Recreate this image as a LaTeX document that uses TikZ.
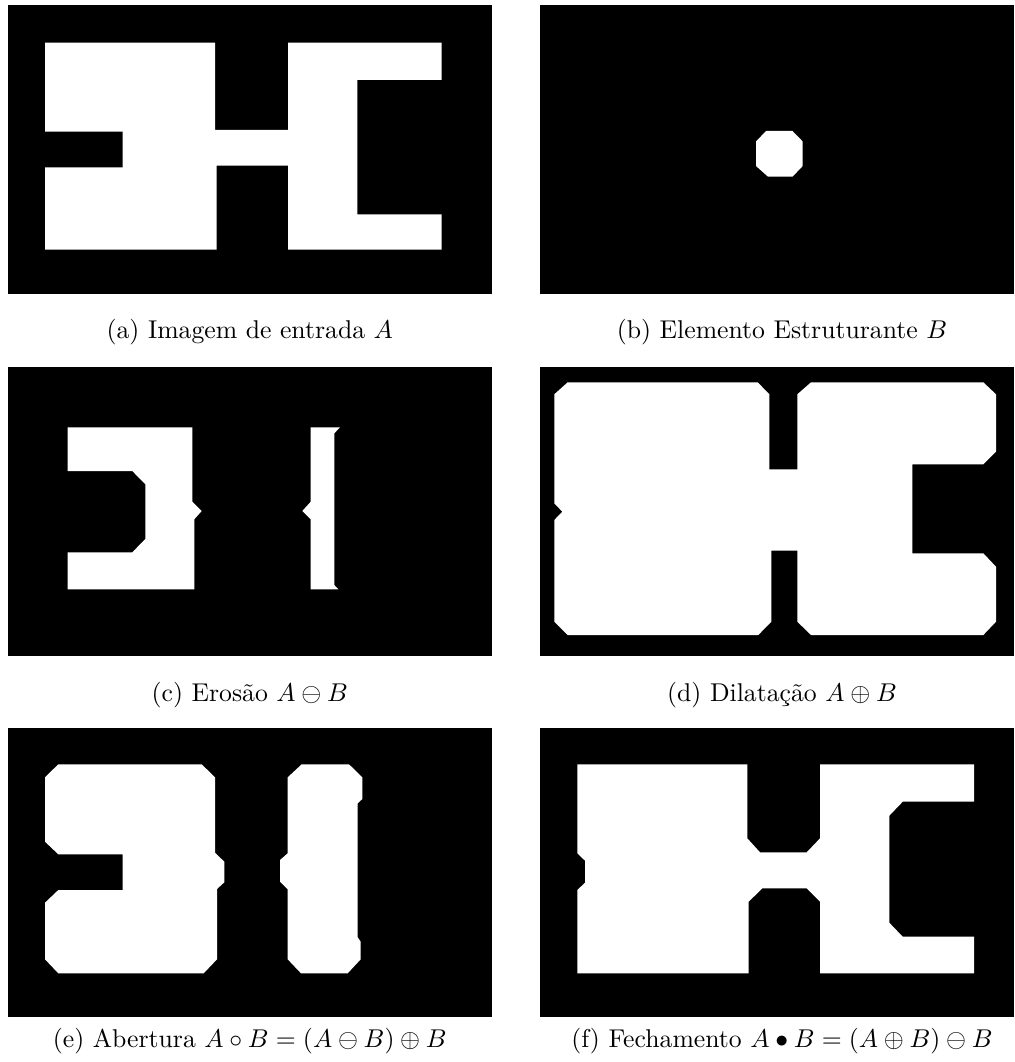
\documentclass[tikz,border=0pt]{standalone}
\begin{document}
\begin{tikzpicture}[x=0.389pt,y=-0.389pt,panel/.style={fill=black},blob/.style={fill=white},every node/.style={font=\normalsize,anchor=base}]
\useasboundingbox (0,0) rectangle (1014,1062);
% row 1
\begin{scope}[shift={(8,5)}]
\fill[panel](0,0) rectangle (483.7,289);
\fill[blob](37,37.7)--(207,37.7)--(207,125)--(280,125)--(280,37.7)--(433.7,37.7)--(433.7,75)--(349.3,75)--(349.3,209.3)--(433.7,209.3)--(433.7,244.7)--(280,244.7)--(280,160.7)--(208.7,160.7)--(208.7,244.7)--(37,244.7)--(37,162.3)--(114.7,162.3)--(114.7,126.7)--(37,126.7)--cycle;
\end{scope}
\node (capa) at (249.8,339){(a) Imagem de entrada $A$};
\begin{scope}[shift={(540,5)}]
\fill[panel](0,0) rectangle (474,289);
\fill[blob](226,126)--(252.5,126)--(262.7,136.5)--(262.7,161)--(252.5,171.7)--(228,171.7)--(216,161)--(216,136.5)--cycle;
\end{scope}
\node (capb) at (782,339){(b) Elemento Estruturante $B$};
% row 2
\begin{scope}[shift={(8,366.7)}]
\fill[panel](0,0) rectangle (483.7,289);
\fill[blob](59.7,60.6)--(184.3,60.6)--(184.3,135)--(193.7,144.3)--(186.3,152.6)--(186.3,222.6)--(59.7,222.6)--(59.7,185.6)--(124.3,185.6)--(137.3,172.3)--(137.3,117.6)--(124.3,104.3)--(59.7,104.3)--cycle;
\fill[blob](302.7,60.6)--(332,60.6)--(326.3,66.6)--(326.3,218.3)--(330.3,222.6)--(302.7,222.6)--(302.7,152.6)--(294.3,144.3)--(302.7,135)--cycle;
\end{scope}
\node (capc) at (249.8,701){(c) Erosão $A\ominus B$};
\begin{scope}[shift={(540,366.7)}]
\fill[panel](0,0) rectangle (474,289);
\fill[blob](14.3,27.6)--(27.7,15.6)--(217.7,15.6)--(229.3,27.6)--(229.3,102.6)--(257.3,102.6)--(257.3,27.6)--(271,15.6)--(443.3,15.6)--(456,27.6)--(456,85)--(443.3,97.6)--(372.3,97.6)--(372.3,186.6)--(443.3,186.6)--(456,200)--(456,255)--(443.3,268.3)--(271,268.3)--(257.3,255)--(257.3,184)--(231.3,184)--(231.3,255)--(218.3,268.3)--(27.7,268.3)--(14.3,255)--(14.3,153.3)--(22.3,145)--(14.3,136.6)--cycle;
\end{scope}
\node (capd) at (782,701){(d) Dilatação $A\oplus B$};
% row 3
\begin{scope}[shift={(8,728)}]
\fill[panel](0,0) rectangle (483.7,289);
\fill[blob](37,49.3)--(50.3,36.3)--(193.7,36.3)--(207,49.3)--(207,124.7)--(216.3,133.7)--(216.3,154.3)--(209,161)--(209,231.3)--(195.7,245.3)--(50.3,245.3)--(37,231.3)--(37,174.7)--(50.3,162)--(114.7,162)--(114.7,126.3)--(50.3,126.3)--(37,113.7)--cycle;
\fill[blob](279.7,49.3)--(293.7,36.3)--(341,36.3)--(354.3,49.3)--(354.3,71)--(349.7,75.3)--(349.7,209.3)--(352.7,213.7)--(352.7,231.3)--(339.7,245.3)--(293,245.3)--(279.7,231.3)--(279.7,161.3)--(272,153.7)--(272,132)--(279.7,125.3)--cycle;
\end{scope}
\node (cape) at (249.8,1047){(e) Abertura $A\circ B=(A\ominus B)\oplus B$};
\begin{scope}[shift={(540,728)}]
\fill[panel](0,0) rectangle (474,289);
\fill[blob](37.3,36.3)--(207.3,36.3)--(207.3,110.3)--(220,124.3)--(266.7,124.3)--(280,110.3)--(280,36.3)--(434,36.3)--(434,73.7)--(362.7,73.7)--(349.3,87.7)--(349.3,194.7)--(362.7,208.7)--(434,208.7)--(434,245.3)--(280,245.3)--(280,173.7)--(266.7,160.3)--(222.3,160.3)--(208.7,173.7)--(208.7,245.3)--(37.3,245.3)--(37.3,162)--(45,154.7)--(45,132.7)--(37.3,125.3)--cycle;
\end{scope}
\node (capf) at (782,1047){(f) Fechamento $A\bullet B=(A\oplus B)\ominus B$};
\end{tikzpicture}
\end{document}
